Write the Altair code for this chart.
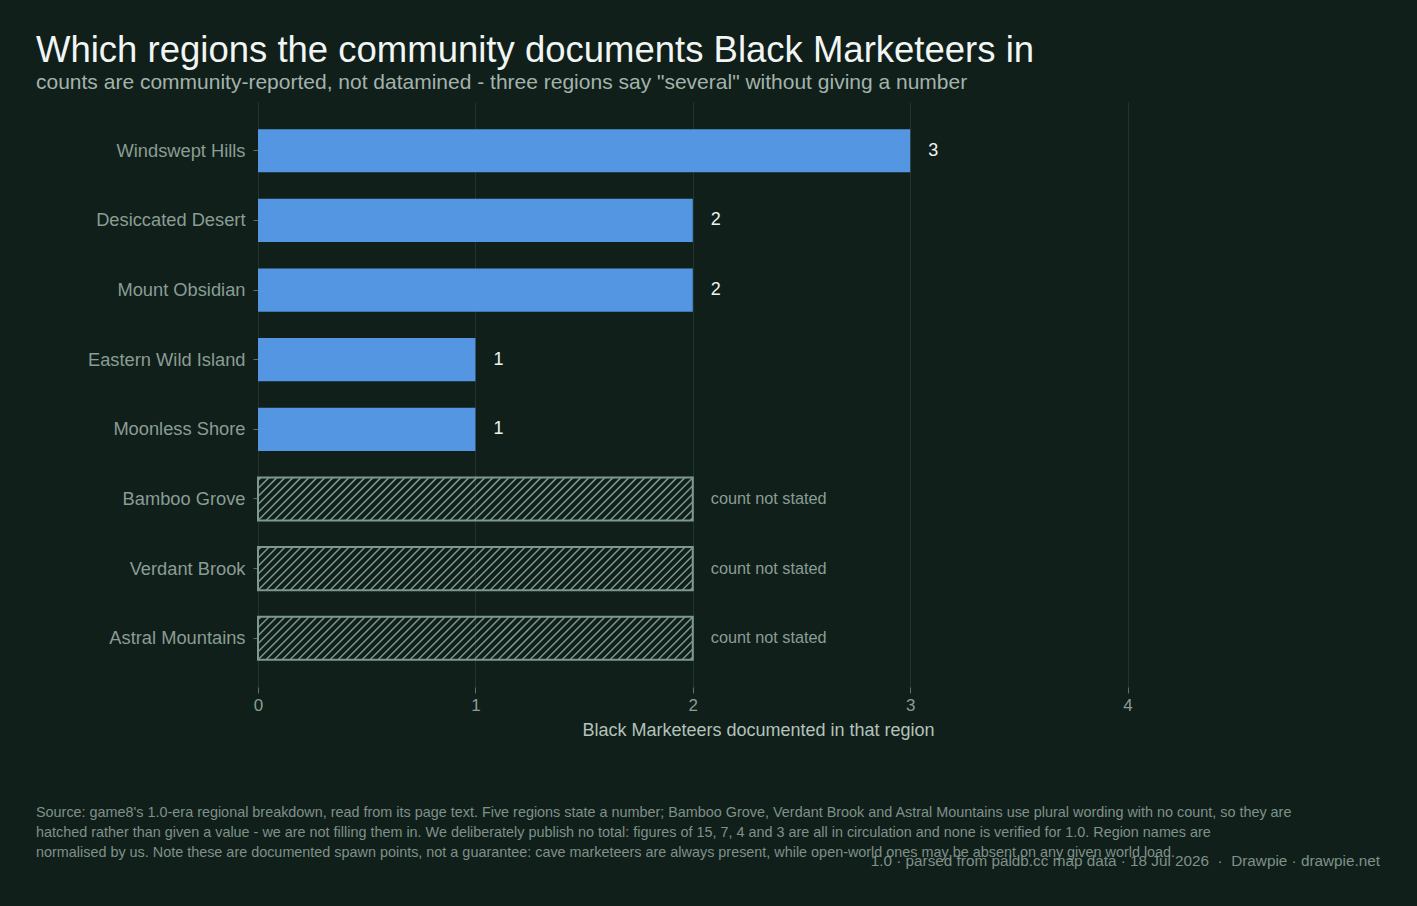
import altair as alt
import numpy as np
import pandas as pd

# ---- data -------------------------------------------------------------
regions = [
    "Windswept Hills",
    "Desiccated Desert",
    "Mount Obsidian",
    "Eastern Wild Island",
    "Moonless Shore",
    "Bamboo Grove",
    "Verdant Brook",
    "Astral Mountains",
]
counts = [3, 2, 2, 1, 1, None, None, None]
UNSTATED_LEN = 2          # drawn length for regions that give no number
x_ticks = [0, 1, 2, 3, 4]
X_MAX = 4.6               # axis runs a little past the last tick

title = "Which regions the community documents Black Marketeers in"
subtitle = ('counts are community-reported, not datamined - three regions say '
            '"several" without giving a number')
x_title = "Black Marketeers documented in that region"
note_lines = [
    "Source: game8's 1.0-era regional breakdown, read from its page text. Five regions state a number; "
    "Bamboo Grove, Verdant Brook and Astral Mountains use plural wording with no count, so they are",
    "hatched rather than given a value - we are not filling them in. We deliberately publish no total: "
    "figures of 15, 7, 4 and 3 are all in circulation and none is verified for 1.0. Region names are",
    "normalised by us. Note these are documented spawn points, not a guarantee: cave marketeers are "
    "always present, while open-world ones may be absent on any given world load.",
]
credit = "1.0 \u00b7 parsed from paldb.cc map data \u00b7 18 Jul 2026 \u00a0\u00b7\u00a0 Drawpie \u00b7 drawpie.net"

# ---- layout / style ---------------------------------------------------
W, H = 1000, 585
LEFT, TOP = 258, 102
PAD_IN, PAD_OUT = 0.38, 0.39
HATCH_GAP_PX = 8
FONT = "Liberation Sans"
BG = "#101f1a"
BAR = "#5596e3"
HATCH = "#7d998f"
GRID = "#22342d"
MUTED = "#8a9d94"

df = pd.DataFrame({"region": regions, "count": counts})
df["stated"] = df["count"].notna()
df["length"] = df["count"].fillna(UNSTATED_LEN)
df["label"] = [str(int(c)) if pd.notna(c) else "count not stated" for c in counts]

# ---- hatch segments for the unstated bars (in data units) --------------
n = len(regions)
y_total = n - PAD_IN + 2 * PAD_OUT        # band-scale extent in step units
step_px = H / y_total
bw_u = 1 - PAD_IN
px_per_x = W / X_MAX
dxu = bw_u * step_px / px_per_x           # 45 degree run across one bar
gap_u = HATCH_GAP_PX / px_per_x

rows = []
for i, (stated, v) in enumerate(zip(df["stated"], df["length"])):
    if stated:
        continue
    y_top = i + PAD_OUT
    y_bot = y_top + bw_u
    k0 = int(np.floor(-dxu / gap_u))
    k1 = int(np.ceil(v / gap_u))
    for k in range(k0, k1 + 1):
        b = k * gap_u
        t0 = max(0.0, -b / dxu)
        t1 = min(1.0, (v - b) / dxu)
        if t1 - t0 <= 1e-6:
            continue
        rows.append({
            "hx": b + t0 * dxu, "hx2": b + t1 * dxu,
            "hy": y_bot - t0 * bw_u, "hy2": y_bot - t1 * bw_u,
        })
hatch_df = pd.DataFrame(rows)

# ---- encodings ----------------------------------------------------------
x_scale = alt.Scale(domain=[0, X_MAX], nice=False, zero=True)
x_axis = alt.Axis(
    title=x_title, values=x_ticks, format="d", grid=True, gridColor=GRID,
    domain=False, tickColor="#5d6f67", tickSize=6, labelPadding=4,
    labelFlush=False, labelFontSize=17, labelColor=MUTED, titleFontSize=18,
    titleColor="#b4c2bb", titleFontWeight="normal", titlePadding=8,
)
y_enc = alt.Y(
    "region:N", sort=regions,
    scale=alt.Scale(paddingInner=PAD_IN, paddingOuter=PAD_OUT),
    axis=alt.Axis(title=None, domain=False, grid=False, tickColor="#5d6f67",
                  tickSize=5, labelPadding=8, labelFontSize=18.3,
                  labelColor=MUTED, labelOffset=1),
)

base = alt.Chart(df)

bars = base.transform_filter("datum.stated").mark_bar(color=BAR).encode(
    x=alt.X("length:Q", scale=x_scale, axis=x_axis), y=y_enc
)

outline = base.transform_filter("!datum.stated").mark_bar(
    fillOpacity=0, stroke=HATCH, strokeWidth=2
).encode(x=alt.X("length:Q", scale=x_scale, axis=x_axis), y=y_enc)

value_text = base.transform_filter("datum.stated").mark_text(
    align="left", baseline="middle", dx=18, fontSize=18, color="#eef3f0"
).encode(x=alt.X("length:Q", scale=x_scale, axis=x_axis), y=y_enc,
         text="label:N")

unstated_text = base.transform_filter("!datum.stated").mark_text(
    align="left", baseline="middle", dx=18, fontSize=16.3, color=MUTED
).encode(x=alt.X("length:Q", scale=x_scale, axis=x_axis), y=y_enc,
         text="label:N")

note = alt.Chart(alt.Data(values=[{}])).mark_text(
    align="left", baseline="alphabetic", fontSize=14.4, lineHeight=20,
    color="#7f9189"
).encode(x=alt.value(36 - LEFT), y=alt.value(817 - TOP),
         text=alt.value(note_lines))

credit_mark = alt.Chart(alt.Data(values=[{}])).mark_text(
    align="right", baseline="alphabetic", fontSize=15.3, color="#7f9189"
).encode(x=alt.value(1380 - LEFT), y=alt.value(866 - TOP),
         text=alt.value(credit))

# diagonal hatch lines live on their own continuous y scale that spans the
# same pixel range as the band scale above
hatch = alt.Chart(hatch_df).mark_rule(stroke=HATCH, strokeWidth=1.5).encode(
    x=alt.X("hx:Q", scale=x_scale, axis=x_axis),
    x2="hx2:Q",
    y=alt.Y("hy:Q", scale=alt.Scale(domain=[0, y_total], reverse=True,
                                     nice=False, zero=False), axis=None),
    y2="hy2:Q",
)

main = alt.layer(bars, outline, value_text, unstated_text, note, credit_mark)

chart = (
    alt.layer(hatch, main)
    .resolve_scale(y="independent")
    .properties(
        background=BG,
        autosize=alt.AutoSizeParams(type="none"),
        padding={"left": LEFT, "top": TOP,
                 "right": 1417 - LEFT - W, "bottom": 906 - TOP - H},
        title=alt.TitleParams(
            text=title, subtitle=subtitle, anchor="start", frame="group",
            dx=36 - LEFT, offset=9, fontSize=36.5, fontWeight="normal",
            color="#f1f5f3", subtitleFontSize=21, subtitleColor="#a3b3ab",
            subtitlePadding=3, font=FONT, subtitleFont=FONT,
        ),
    )
    .configure(font=FONT)
    .configure_view(stroke=None, continuousWidth=W, continuousHeight=H,
                    discreteWidth=W, discreteHeight=H)
)
chart = chart.properties(width=W, height=H)

chart.save("out.html", embed_options={"renderer": "svg", "actions": False})
